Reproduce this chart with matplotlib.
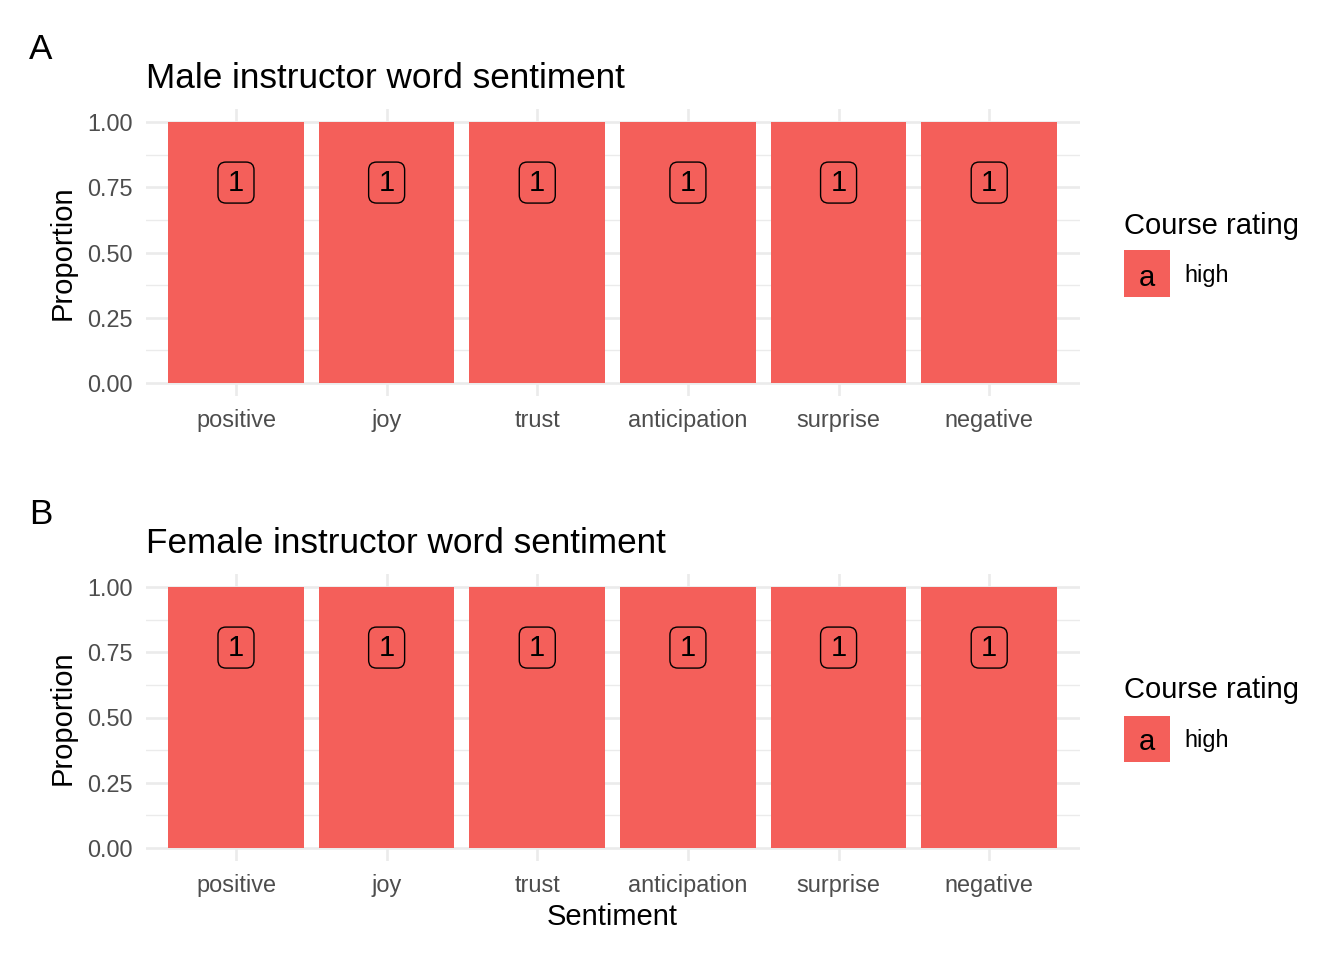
import matplotlib
matplotlib.use("Agg")
import matplotlib.pyplot as plt
from matplotlib.patches import Rectangle, FancyBboxPatch
from matplotlib.transforms import ScaledTranslation

# data
sentiments = ["positive", "joy", "trust", "anticipation", "surprise", "negative"]
male_prop = [1, 1, 1, 1, 1, 1]
female_prop = [1, 1, 1, 1, 1, 1]
male_labels = ["1", "1", "1", "1", "1", "1"]
female_labels = ["1", "1", "1", "1", "1", "1"]
label_y = 0.768
rating_levels = ["high"]

panels = [("A", "Male instructor word sentiment", male_prop, male_labels),
          ("B", "Female instructor word sentiment", female_prop, female_labels)]

plt.rcParams['font.family'] = ['Liberation Sans', 'DejaVu Sans']

W, H = 1344, 960
BAR = '#F45F5A'
GRID = '#EBEBEB'
TXT = '#4D4D4D'

fig = plt.figure(figsize=(W / 100, H / 100), dpi=100)


def fx(px):
    return px / W


def fy(py):
    return 1 - py / H


# panel pixel extents (top, bottom)
extents = [(109, 396), (574, 861)]
left, right = 145.6, 1079.6

for (tag, title, props, labs), (top, bot) in zip(panels, extents):
    ax = fig.add_axes([fx(left), fy(bot), fx(right - left), (bot - top) / H])
    x = list(range(len(sentiments)))
    ax.set_xlim(-0.6, len(sentiments) - 0.4)
    ax.set_ylim(-0.05, 1.05)
    for s in ax.spines.values():
        s.set_visible(False)
    ax.set_yticks([0, 0.25, 0.5, 0.75, 1.0])
    ax.set_yticklabels(["0.00", "0.25", "0.50", "0.75", "1.00"])
    ax.set_yticks([0.125, 0.375, 0.625, 0.875], minor=True)
    ax.set_xticks(x)
    ax.set_xticklabels(sentiments)
    ax.tick_params(axis='both', which='both', length=0, labelsize=16.9, colors=TXT)
    ax.tick_params(axis='x', pad=22)
    ax.tick_params(axis='y', pad=9)
    for t in ax.get_xticklabels():
        t.set_va('baseline')
    ax.grid(True, which='major', color=GRID, linewidth=1.9)
    ax.grid(True, which='minor', axis='y', color=GRID, linewidth=1.0)
    ax.set_axisbelow(True)

    ax.bar(x, props, width=0.9, color=BAR, zorder=2)
    for xi, lab in zip(x, labs):
        # label box, fixed size in inches, centred on the data point
        tr = fig.dpi_scale_trans + ScaledTranslation(xi, label_y, ax.transData)
        ax.add_patch(FancyBboxPatch((-0.18, -0.205), 0.36, 0.41,
                                    boxstyle='round,pad=0,rounding_size=0.08',
                                    transform=tr, fc='none', ec='black', lw=1.0, zorder=3))
        ax.text(xi, label_y, lab, ha='center', va='center', fontsize=21, color='black', zorder=4)

    ax.set_ylabel("Proportion", fontsize=21, color='black', labelpad=8)

    fig.text(fx(29), fy(top - 50), tag, fontsize=25.3, va='baseline', ha='left')
    fig.text(fx(left), fy(top - 21), title, fontsize=25.3, va='baseline', ha='left')

    # legend
    ctr = (top + bot) / 2
    fig.text(fx(1124), fy(ctr - 27), "Course rating", fontsize=21, va='center', ha='left')
    for i, lev in enumerate(rating_levels):
        ky = ctr - 2 + i * 46
        fig.add_artist(Rectangle((fx(1124), fy(ky + 46)), 46 / W, 46 / H,
                                 transform=fig.transFigure, fc=BAR, ec='none'))
        fig.text(fx(1147), fy(ky + 27), "a", fontsize=21, va='center', ha='center')
        fig.text(fx(1184), fy(ky + 25), lev, fontsize=16.9, va='center', ha='left')

fig.text(fx((left + right) / 2), fy(925), "Sentiment", fontsize=21, va='baseline', ha='center')

fig.savefig("out.png", dpi=100)
